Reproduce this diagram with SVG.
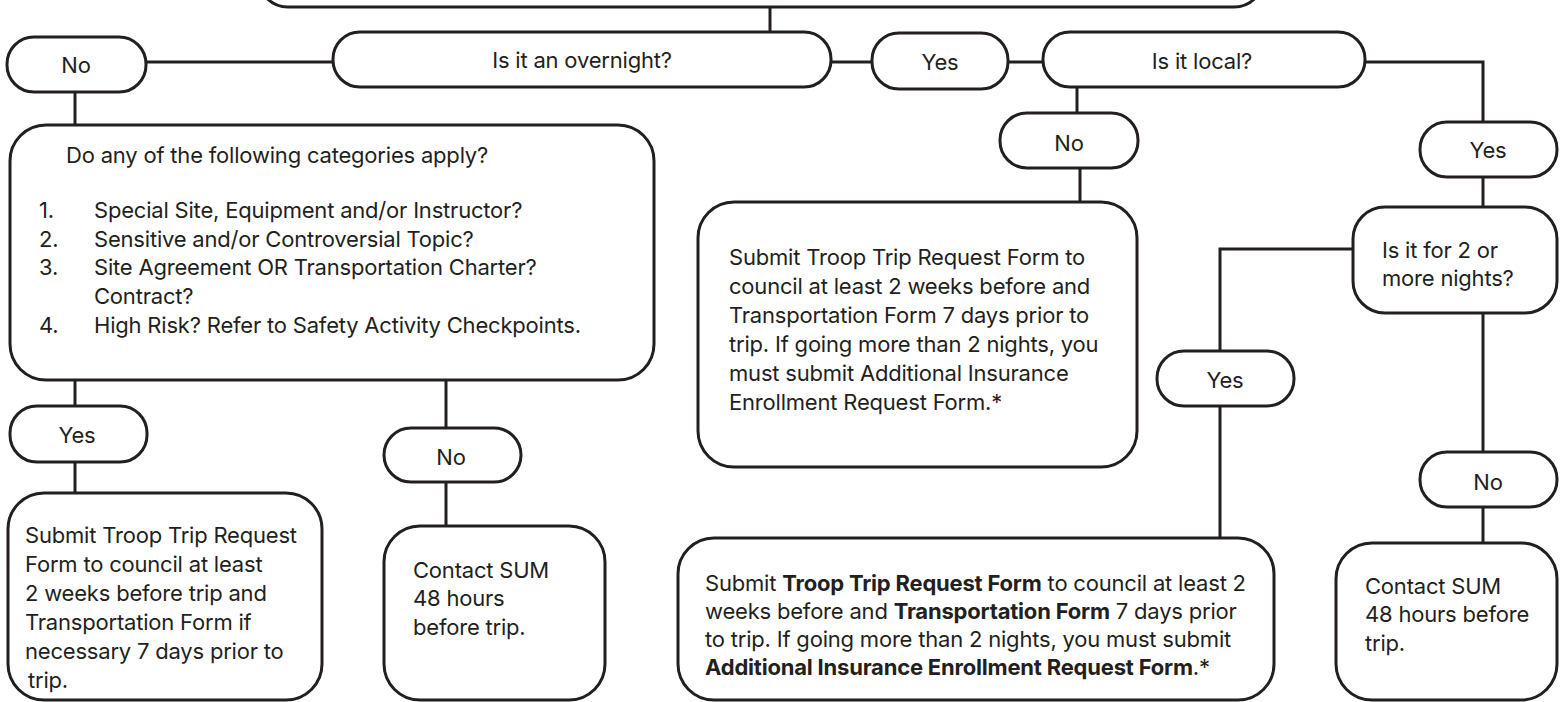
<svg xmlns="http://www.w3.org/2000/svg" width="1562" height="702" viewBox="0 0 1562 702">
<style>
.box{fill:#fff;stroke:#231f20;stroke-width:3}
.ln{fill:none;stroke:#231f20;stroke-width:3}
text{font-family:Inter,"Liberation Sans",sans-serif;font-size:22px;fill:#231f20;letter-spacing:-0.2px}
.c{text-anchor:middle}
.b{font-weight:700}
</style>
<rect width="1562" height="702" fill="#fff"/>
<g id="connectors">
<path class="ln" d="M770 7V32"/>
<path class="ln" d="M146 62H333"/>
<path class="ln" d="M831 62H872"/>
<path class="ln" d="M1008 62H1043"/>
<path class="ln" d="M1365 62H1483V122"/>
<path class="ln" d="M1077 87V113"/>
<path class="ln" d="M1080 168V202"/>
<path class="ln" d="M75 92V125"/>
<path class="ln" d="M1483 177V207"/>
<path class="ln" d="M1353 249H1220V351"/>
<path class="ln" d="M1220 406V538"/>
<path class="ln" d="M1483 313V452"/>
<path class="ln" d="M1483 507V543"/>
<path class="ln" d="M75 380V406"/>
<path class="ln" d="M75 462V493"/>
<path class="ln" d="M446 380V428"/>
<path class="ln" d="M446 482V526"/>
</g>
<g id="top"><rect class="box" x="258" y="-60" width="1006" height="67" rx="30"/></g>
<g id="overnight"><rect class="box" x="333" y="32" width="498" height="55" rx="27"/><text class="c" x="582" y="68">Is it an overnight?</text></g>
<g id="no1"><rect class="box" x="7" y="37" width="139" height="55" rx="27"/><text class="c" x="76" y="73">No</text></g>
<g id="yes1"><rect class="box" x="872" y="33" width="136" height="56" rx="27"/><text class="c" x="940" y="70">Yes</text></g>
<g id="local"><rect class="box" x="1043" y="32" width="322" height="55" rx="27"/><text class="c" x="1202" y="69">Is it local?</text></g>
<g id="categories"><rect class="box" x="10" y="125" width="644" height="255" rx="36"/>
<text x="66" y="163">Do any of the following categories apply?</text>
<text x="39" y="218">1.</text><text x="94" y="218">Special Site, Equipment  and/or Instructor?</text>
<text x="39" y="247">2.</text><text x="94" y="247">Sensitive and/or  Controversial Topic?</text>
<text x="39" y="275">3.</text><text x="94" y="275">Site Agreement OR Transportation Charter?</text>
<text x="94" y="304">Contract?</text>
<text x="39" y="333">4.</text><text x="94" y="333">High Risk? Refer to Safety Activity Checkpoints.</text>
</g>
<g id="no2"><rect class="box" x="1000" y="113" width="138" height="55" rx="27"/><text class="c" x="1069" y="151">No</text></g>
<g id="submit-mid"><rect class="box" x="698" y="202" width="439" height="265" rx="36"/>
<text x="729" y="265">Submit Troop Trip Request Form to</text>
<text x="729" y="294">council at least 2 weeks before and</text>
<text x="729" y="323">Transportation Form 7 days prior to</text>
<text x="729" y="352">trip. If going more than 2 nights, you</text>
<text x="729" y="381">must submit Additional Insurance</text>
<text x="729" y="410">Enrollment Request Form.*</text>
</g>
<g id="yes2"><rect class="box" x="1420" y="122" width="137" height="55" rx="27"/><text class="c" x="1488" y="158">Yes</text></g>
<g id="nights"><rect class="box" x="1353" y="207" width="204" height="106" rx="32"/>
<text x="1382" y="258">Is it for 2 or</text><text x="1382" y="286">more nights?</text></g>
<g id="yes3"><rect class="box" x="1157" y="351" width="137" height="55" rx="27"/><text class="c" x="1225" y="388">Yes</text></g>
<g id="no3"><rect class="box" x="1420" y="452" width="137" height="55" rx="27"/><text class="c" x="1488" y="490">No</text></g>
<g id="submit-bottom"><rect class="box" x="678" y="538" width="596" height="162" rx="36"/>
<text x="705" y="591">Submit <tspan class="b">Troop Trip Request Form</tspan> to council at least 2</text>
<text x="705" y="619">weeks before and <tspan class="b">Transportation Form</tspan> 7 days prior</text>
<text x="705" y="647">to trip. If going more than 2 nights, you must submit</text>
<text x="705" y="675"><tspan class="b">Additional Insurance Enrollment Request Form</tspan>.*</text>
</g>
<g id="contact-right"><rect class="box" x="1336" y="543" width="221" height="157" rx="36"/>
<text x="1365" y="594">Contact SUM</text><text x="1365" y="622">48 hours before</text><text x="1365" y="651">trip.</text></g>
<g id="yes4"><rect class="box" x="10" y="406" width="137" height="56" rx="27"/><text class="c" x="77" y="443">Yes</text></g>
<g id="submit-left"><rect class="box" x="8" y="493" width="314" height="207" rx="36"/>
<text x="25" y="543">Submit Troop Trip Request</text>
<text x="25" y="572">Form to council at least</text>
<text x="25" y="601">2 weeks before trip and</text>
<text x="25" y="630">Transportation Form if</text>
<text x="25" y="659">necessary 7 days prior to</text>
<text x="28" y="688">trip.</text>
</g>
<g id="no4"><rect class="box" x="384" y="428" width="137" height="54" rx="27"/><text class="c" x="451" y="465">No</text></g>
<g id="contact-left"><rect class="box" x="384" y="526" width="221" height="174" rx="36"/>
<text x="413" y="578">Contact SUM</text><text x="413" y="606">48 hours</text><text x="413" y="635">before trip.</text></g>
</svg>
